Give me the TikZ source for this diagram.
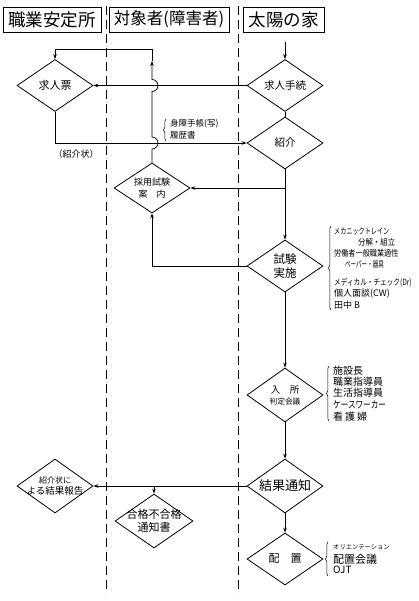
\documentclass[tikz,border=0pt]{standalone}
\usepackage{fontspec}
\usepackage{graphicx}
\setmainfont{Noto Sans CJK JP}
\usetikzlibrary{shapes.geometric,arrows.meta,decorations.pathreplacing}
\newcommand{\sx}[2]{\scalebox{#1}[1]{#2}}
\newcommand{\fz}[2]{\fontsize{#1}{#2}\selectfont}
\begin{document}
\begin{tikzpicture}[x=1pt,y=-1pt,
  hdr/.style={draw, line width=0.8pt, inner sep=0pt, minimum height=25pt},
  dia/.style={diamond, draw, line width=0.8pt, aspect=1.46, inner sep=0pt,
              minimum width=76pt, minimum height=52pt, align=center},
  conn/.style={line width=0.7pt},
  arr/.style={conn, -{Stealth[length=5pt,width=3.6pt]}},
  lane/.style={line width=0.7pt, dash pattern=on 9pt off 5pt},
  lbl/.style={anchor=west, inner sep=0pt},
  brc/.style={decorate, decoration={brace, amplitude=2.5pt}, line width=0.5pt},
]
\fill[white] (0,0) rectangle (418,601);
\useasboundingbox (0,0) rectangle (418,601);

% swimlane separators
\draw[lane] (106,6) -- (106,594);
\draw[lane] (238,6) -- (238,594);

% headers
\node[hdr, minimum width=98pt, font=\fz{17.5}{20}] (hd1) at (52,19.5) {職業安定所};
\node[hdr, minimum width=120pt, font=\fz{16.5}{20}] (hd2) at (169,19.5) {対象者(障害者)};
\node[hdr, minimum width=81pt, font=\fz{17.5}{20}] (hd3) at (283.5,19.5) {太陽の家};

% diamonds
\node[dia, font=\fz{11}{13}] (kyujinhyo) at (55,85.5) {求人票};
\node[dia, font=\fz{10.5}{13}] (kyujintetsu) at (285,85.5) {求人手続};
\node[dia, font=\fz{10.5}{13}] (shokai) at (285,143) {紹介};
\node[dia, minimum height=50pt, font=\fz{9}{12}] (saiyo) at (152,188) {採用試験\\案　内};
\node[dia, font=\fz{11.5}{14}] (shiken) at (285,266) {試験\\実施};
\node[dia, minimum height=54pt, font=\fz{9.5}{11}] (nyusho) at (285,395)
  {入　所\\{\fz{7.7}{11}判定会議}};
\node[dia, minimum height=54pt, font=\fz{13}{15}] (kekka) at (285,486) {結果通知};
\node[dia, minimum height=54pt, inner xsep=-6pt, font=\fz{9.5}{11}] (hokoku) at (55,486)
  {{\fz{8}{11}紹介状に}\\よる結果報告};
\node[dia, minimum width=78pt, minimum height=54pt, inner xsep=-6.5pt, font=\fz{11}{12.5}] (gokaku) at (154,521)
  {合格不合格\\通知書};
\node[dia, font=\fz{11}{13}] (haichi) at (285,559) {配　置};

% connectors
\coordinate (topin) at (285,42);
\coordinate (mid) at (152,61);
\coordinate (corner) at (152,49);
\coordinate (j1) at (285,188);
\coordinate (j2) at (154,486);

\draw[arr] (topin) -- (kyujintetsu.north);
\draw[arr] (kyujintetsu.west) -- (kyujinhyo.east);
\draw[conn] (kyujintetsu.south) -- (shokai.north);
\draw[arr] (kyujinhyo.south) |- (shokai.west);
\draw[arr] (shokai.south) -- (shiken.north);
\draw[arr] (j1) -- (saiyo.east);
\draw[arr] (shiken.west) -| (saiyo.south);
\draw[arr] (shiken.south) -- (nyusho.north);
\draw[arr] (nyusho.south) -- (kekka.north);
\draw[arr] (kekka.west) -- (hokoku.east);
\draw[arr] (j2) -- (gokaku.north);
\draw[arr] (kekka.south) -- (haichi.north);

% loop up from 採用試験案内 with line hops
\draw[arr] (saiyo.north) -- (152,149) arc[start angle=-90,end angle=90,radius=6pt]
  -- (152,91.5) arc[start angle=-90,end angle=90,radius=6pt] -- (mid);
\draw[arr] (mid) -- (corner) -| (kyujinhyo.north);

% labels
\node[inner sep=0pt, font=\fz{9}{11}] (shokaijo) at (76,154) {（紹介状）};

\coordinate (b1a) at (166,141);
\coordinate (b1b) at (166,119);
\draw[brc] (b1a) -- (b1b);
\node[lbl, font=\fz{8.5}{10}] (sd1) at (170,124) {身障手帳(写)};
\node[lbl, font=\fz{8.5}{10}] (sd2) at (170,135.5) {履歴書};

\coordinate (b2a) at (331,310);
\coordinate (b2b) at (331,226);
\draw[brc] (b2a) -- (b2b);
\node[lbl, font=\fz{8.5}{10}] (t1) at (334,231) {\sx{0.72}{メカニックトレイン}};
\node[lbl, font=\fz{8.5}{10}] (t2) at (358,242) {\sx{0.87}{分解・組立}};
\node[lbl, font=\fz{8.5}{10}] (t3) at (334,253) {\sx{0.84}{労働者一般職業適性}};
\node[lbl, font=\fz{8.5}{10}] (t4) at (345,264) {\sx{0.65}{ペーパー・器具}};
\node[lbl, font=\fz{8.5}{10}] (t5) at (334,283) {\sx{0.78}{メディカル・チェック(Dr)}};
\node[lbl, font=\fz{9}{10}] (t6) at (334,294) {個人面談(CW)};
\node[lbl, font=\fz{9}{10}] (t7) at (334,305) {田中 B};

\coordinate (b3a) at (329,421);
\coordinate (b3b) at (329,366);
\draw[brc] (b3a) -- (b3b);
\node[lbl, font=\fz{10}{11}] (n1) at (333,371) {施設長};
\node[lbl, font=\fz{10}{11}] (n2) at (333,382) {職業指導員};
\node[lbl, font=\fz{10}{11}] (n3) at (333,393) {生活指導員};
\node[lbl, font=\fz{10}{11}] (n4) at (333,405) {\sx{0.76}{ケースワーカー}};
\node[lbl, font=\fz{10}{11}] (n5) at (333,417) {看\hspace{2pt}護\hspace{2pt}婦};

\coordinate (b4a) at (328,576);
\coordinate (b4b) at (328,542);
\draw[brc] (b4a) -- (b4b);
\node[lbl, font=\fz{6.3}{8}] (p1) at (333,547) {オリエンテーション};
\node[lbl, font=\fz{11}{12}] (p2) at (333,559) {配置会議};
\node[lbl, font=\fz{10}{11}] (p3) at (333,570) {OJT};
\end{tikzpicture}
\end{document}
